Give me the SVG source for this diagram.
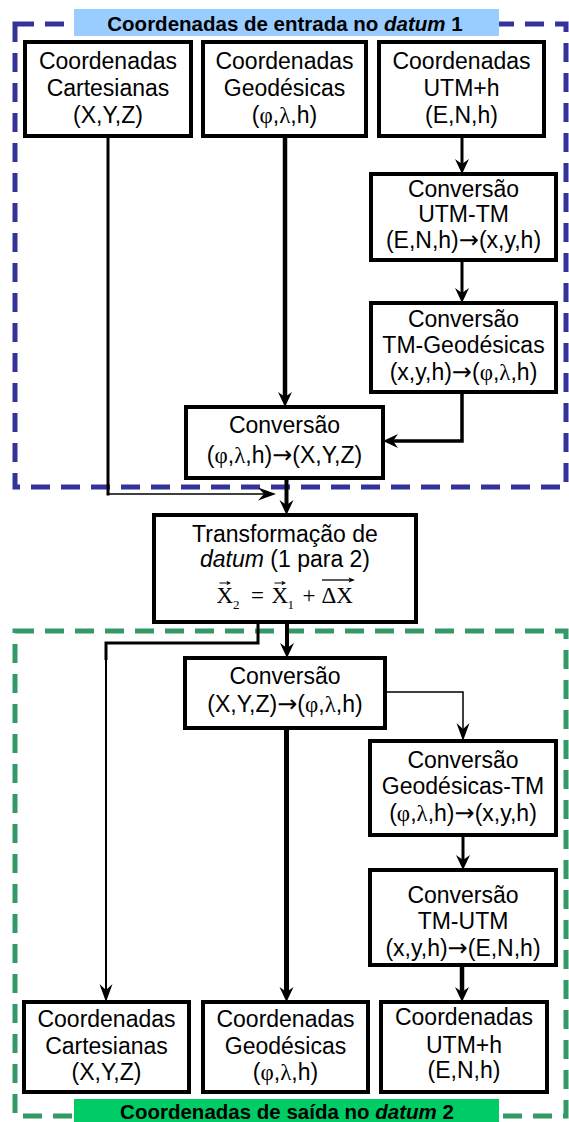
<svg xmlns="http://www.w3.org/2000/svg" width="569" height="1122" viewBox="0 0 569 1122">
<defs>
<style>
.bx{fill:#fff;stroke:#000;stroke-width:4}
.t{font-family:"Liberation Sans",Arial,sans-serif;font-size:23px;text-anchor:middle;fill:#000}
.gk{font-family:"Liberation Serif","Times New Roman",serif}
.ar{font-family:"DejaVu Sans",sans-serif;font-size:24px}
.c{fill:none;stroke:#000;stroke-linejoin:miter}
.lbl{font-family:"Liberation Sans",Arial,sans-serif;font-size:20.5px;font-weight:bold;text-anchor:middle;fill:#000}
.m{font-family:"Liberation Serif","Times New Roman",serif;font-size:23px;fill:#000}
.ms{font-family:"Liberation Serif","Times New Roman",serif;font-size:13px;fill:#000}
.dash{fill:none;stroke-width:5;stroke-dasharray:19 11}
</style>
<marker id="a" viewBox="-19 -8 20 16" markerWidth="20" markerHeight="16" refX="-6" refY="0" orient="auto" markerUnits="userSpaceOnUse">
<path d="M0,0 L-15,-7 L-10,0 L-15,7 Z" fill="#000"/>
</marker>
<marker id="b" viewBox="-19 -8 20 16" markerWidth="20" markerHeight="16" refX="-6" refY="0" orient="auto" markerUnits="userSpaceOnUse">
<path d="M0,0 L-18,-6.5 L-12,0 L-18,6.5 Z" fill="#000"/>
</marker>
</defs>
<rect x="0" y="0" width="569" height="1122" fill="#fff"/>

<g id="groups">
<rect class="dash" x="15" y="24" width="551" height="463" stroke="#333399"/>
<rect class="dash" x="15" y="631" width="551" height="485" stroke="#339966"/>
</g>

<g id="connectors">
<path class="c" d="M108,136 V495.5" stroke-width="3"/>
<path class="c" d="M107,494 H270" stroke-width="1.5" marker-end="url(#b)"/>
<path class="c" d="M285,136 V401" stroke-width="4.5" marker-end="url(#a)"/>
<path class="c" d="M462,136 V168" stroke-width="3" marker-end="url(#a)"/>
<path class="c" d="M462,260 V297" stroke-width="3" marker-end="url(#a)"/>
<path class="c" d="M462,392 V441 H389" stroke-width="3.5" marker-end="url(#a)"/>
<path class="c" d="M286.5,478 V509" stroke-width="4" marker-end="url(#a)"/>
<path class="c" d="M258,622 V643 H106 V660" stroke-width="3"/>
<path class="c" d="M106,655 V996" stroke-width="2" marker-end="url(#b)"/>
<path class="c" d="M287,622 V652" stroke-width="4" marker-end="url(#a)"/>
<path class="c" d="M385,692 H463 V735" stroke-width="1.5" marker-end="url(#b)"/>
<path class="c" d="M286.5,728 V996" stroke-width="5" marker-end="url(#a)"/>
<path class="c" d="M463,835 V864" stroke-width="3" marker-end="url(#a)"/>
<path class="c" d="M462,965 V996" stroke-width="4.5" marker-end="url(#a)"/>
</g>

<g id="label-in">
<rect x="74" y="9" width="425" height="27" fill="#99ccff"/>
<text class="lbl" x="285" y="30.5">Coordenadas de entrada no <tspan font-style="italic">datum</tspan> 1</text>
</g>
<g id="label-out">
<rect x="74" y="1099" width="425" height="23" fill="#00cc66"/>
<text class="lbl" x="287" y="1118.5">Coordenadas de saída no <tspan font-style="italic">datum</tspan> 2</text>
</g>

<g id="in-cart">
<rect class="bx" x="25" y="42" width="166" height="94"/>
<text class="t" x="108" y="69">Coordenadas</text>
<text class="t" x="108" y="96">Cartesianas</text>
<text class="t" x="108" y="123">(X,Y,Z)</text>
</g>
<g id="in-geod">
<rect class="bx" x="203" y="42" width="163" height="94"/>
<text class="t" x="284.5" y="69">Coordenadas</text>
<text class="t" x="284.5" y="96">Geodésicas</text>
<text class="t" x="284.5" y="123">(<tspan class="gk">φ</tspan>,<tspan class="gk">λ</tspan>,h)</text>
</g>
<g id="in-utm">
<rect class="bx" x="379" y="42" width="165" height="94"/>
<text class="t" x="461.5" y="69">Coordenadas</text>
<text class="t" x="461.5" y="96">UTM+h</text>
<text class="t" x="461.5" y="123">(E,N,h)</text>
</g>
<g id="conv-utm-tm">
<rect class="bx" x="371" y="174" width="185" height="86"/>
<text class="t" x="463.5" y="197">Conversão</text>
<text class="t" x="463.5" y="222">UTM-TM</text>
<text class="t" x="463.5" y="248">(E,N,h)<tspan class="ar">→</tspan>(x,y,h)</text>
</g>
<g id="conv-tm-geod">
<rect class="bx" x="371" y="303" width="185" height="89"/>
<text class="t" x="463.5" y="327">Conversão</text>
<text class="t" x="463.5" y="353">TM-Geodésicas</text>
<text class="t" x="463.5" y="380">(x,y,h)<tspan class="ar">→</tspan>(<tspan class="gk">φ</tspan>,<tspan class="gk">λ</tspan>,h)</text>
</g>
<g id="conv-geod-cart">
<rect class="bx" x="186" y="407" width="197" height="71"/>
<text class="t" x="284.5" y="433">Conversão</text>
<text class="t" x="284.5" y="463">(<tspan class="gk">φ</tspan>,<tspan class="gk">λ</tspan>,h)<tspan class="ar">→</tspan>(X,Y,Z)</text>
</g>
<g id="transform">
<rect class="bx" x="154" y="515" width="262" height="107"/>
<text class="t" x="285" y="541.5">Transformação de</text>
<text class="t" x="285" y="566.5"><tspan font-style="italic">datum</tspan> (1 para 2)</text>
<text class="m" x="216.5" y="603">X</text>
<text class="ms" x="233" y="609">2</text>
<text class="m" x="251" y="603">=</text>
<text class="m" x="271.5" y="603">X</text>
<text class="ms" x="287.5" y="609">1</text>
<text class="m" x="302.5" y="603">+</text>
<text class="m" x="321.5" y="603">ΔX</text>
<path d="M219.5,583 H229" stroke="#000" stroke-width="1"/>
<path d="M231,583 l-4.5,-2.2 l1,2.2 l-1,2.2 z" fill="#000"/>
<path d="M274.5,583 H284" stroke="#000" stroke-width="1"/>
<path d="M286,583 l-4.5,-2.2 l1,2.2 l-1,2.2 z" fill="#000"/>
<path d="M322,580 H350" stroke="#000" stroke-width="1.3"/>
<path d="M355,580 l-6.5,-2.6 l1.5,2.6 l-1.5,2.6 z" fill="#000"/>
</g>
<g id="conv-cart-geod">
<rect class="bx" x="185" y="658" width="200" height="70"/>
<text class="t" x="285" y="684">Conversão</text>
<text class="t" x="285" y="712">(X,Y,Z)<tspan class="ar">→</tspan>(<tspan class="gk">φ</tspan>,<tspan class="gk">λ</tspan>,h)</text>
</g>
<g id="conv-geod-tm">
<rect class="bx" x="370" y="741" width="186" height="94"/>
<text class="t" x="463" y="768">Conversão</text>
<text class="t" x="463" y="794">Geodésicas-TM</text>
<text class="t" x="463" y="821">(<tspan class="gk">φ</tspan>,<tspan class="gk">λ</tspan>,h)<tspan class="ar">→</tspan>(x,y,h)</text>
</g>
<g id="conv-tm-utm">
<rect class="bx" x="370" y="870" width="186" height="95"/>
<text class="t" x="463" y="903">Conversão</text>
<text class="t" x="463" y="929">TM-UTM</text>
<text class="t" x="463" y="956">(x,y,h)<tspan class="ar">→</tspan>(E,N,h)</text>
</g>
<g id="out-cart">
<rect class="bx" x="24" y="1002" width="165" height="90"/>
<text class="t" x="106.5" y="1027">Coordenadas</text>
<text class="t" x="106.5" y="1054">Cartesianas</text>
<text class="t" x="106.5" y="1080">(X,Y,Z)</text>
</g>
<g id="out-geod">
<rect class="bx" x="203" y="1002" width="165" height="90"/>
<text class="t" x="285.5" y="1027">Coordenadas</text>
<text class="t" x="285.5" y="1054">Geodésicas</text>
<text class="t" x="285.5" y="1080">(<tspan class="gk">φ</tspan>,<tspan class="gk">λ</tspan>,h)</text>
</g>
<g id="out-utm">
<rect class="bx" x="381" y="1002" width="166" height="90"/>
<text class="t" x="464" y="1025">Coordenadas</text>
<text class="t" x="464" y="1053">UTM+h</text>
<text class="t" x="464" y="1078">(E,N,h)</text>
</g>
</svg>
